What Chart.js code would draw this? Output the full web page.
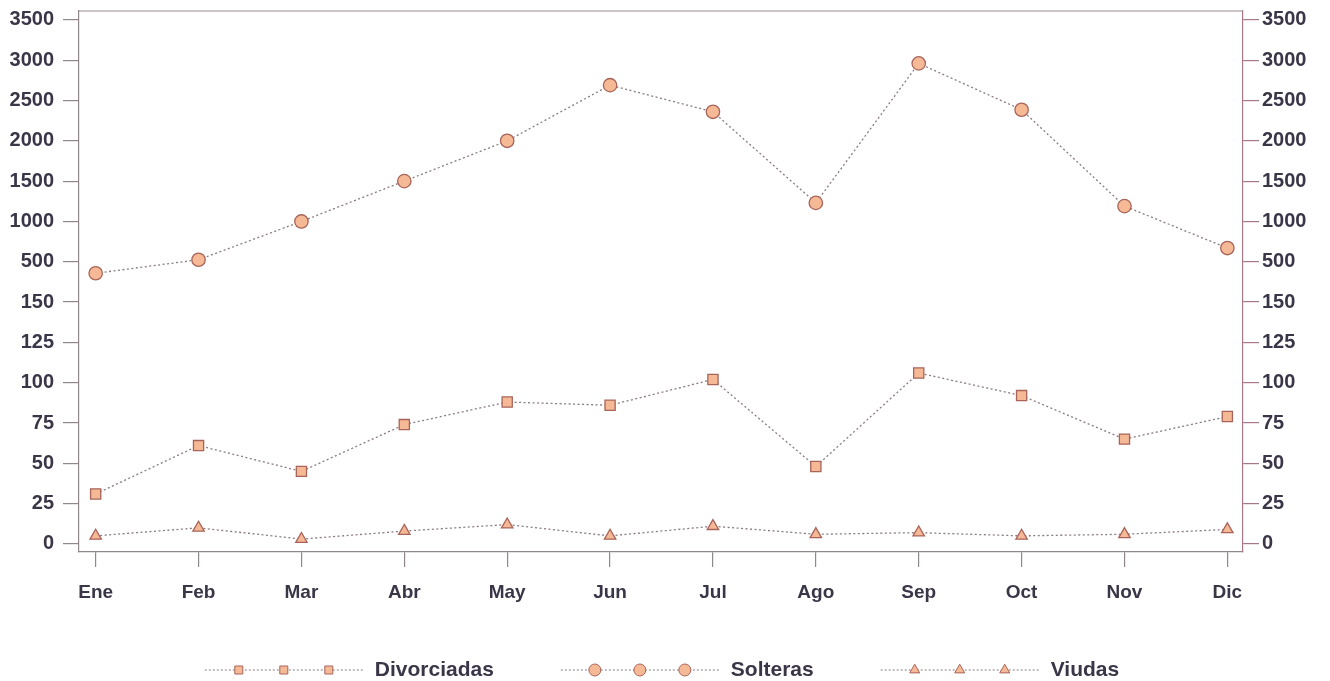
<!DOCTYPE html>
<html><head><meta charset="utf-8">
<script src="https://cdn.jsdelivr.net/npm/chart.js@4.4.1/dist/chart.umd.min.js"></script>
<style>html,body{margin:0;padding:0;background:#fff}#wrap{width:1330px;height:681px;position:relative}</style>
</head><body><div id="wrap"><canvas id="c" width="1330" height="681"></canvas></div>
<script>
const months = ['Ene','Feb','Mar','Abr','May','Jun','Jul','Ago','Sep','Oct','Nov','Dic'];
const divorciadas = [31, 61, 45, 74, 88, 86, 102, 48, 106, 92, 65, 79];
const solteras = [400, 525, 1000, 1500, 2000, 2690, 2360, 1230, 2960, 2385, 1190, 670];
const viudas = [5, 10, 3, 8, 12, 5, 11, 6, 7, 5, 6, 9];
const yTickValues = [0, 25, 50, 75, 100, 125, 150, 500, 1000, 1500, 2000, 2500, 3000, 3500];
const seriesNames = ['Divorciadas', 'Solteras', 'Viudas'];

// broken axis: 0-150 step 25, then 150-500, then 500-3500 step 500 (equal spacing per tick)
function toAxis(v){
  if (v <= 150) return v / 25;
  if (v <= 500) return 6 + (v - 150) / 350;
  return 7 + (v - 500) / 500;
}
const axisTicks = yTickValues.map(toAxis);
function yLabel(val){
  const i = axisTicks.findIndex(t => Math.abs(t - val) < 1e-6);
  return i >= 0 ? String(yTickValues[i]) : '';
}
function pts(arr){ return arr.map((v, i) => ({x: i, y: toAxis(v)})); }

const FILL = '#f6b995', EDGE = '#a8645a', LINE = '#8a7b80', TXT = '#3b3548';
const FONT = '"Liberation Sans", Arial, sans-serif';

function mk(label, arr, style, r){
  return {
    label, data: pts(arr), yAxisID: 'y', xAxisID: 'x',
    borderColor: LINE, borderWidth: 1.3, borderDash: [2, 2.5], tension: 0, fill: false,
    pointStyle: style, pointRadius: r, pointHoverRadius: r,
    pointBackgroundColor: FILL, pointBorderColor: EDGE, pointBorderWidth: 1.3,
    legendStyle: style
  };
}

function drawMarker(ctx, style, x, y, s){
  ctx.beginPath();
  if (style === 'rect') ctx.rect(x - s/2, y - s/2, s, s);
  else if (style === 'circle') ctx.arc(x, y, s/2, 0, Math.PI*2);
  else { const h = s * Math.sqrt(3)/2; ctx.moveTo(x, y - h*2/3); ctx.lineTo(x + s/2, y + h/3); ctx.lineTo(x - s/2, y + h/3); ctx.closePath(); }
  ctx.fill(); ctx.stroke();
}

const legendPlugin = {
  id: 'customLegend',
  afterDraw(chart){
    const ctx = chart.ctx;
    const y = 670;
    const sizes = {rect: 8, circle: 12, triangle: 10};
    ctx.save();
    ctx.font = 'bold 21px ' + FONT;
    const sampleW = 158, gapT = 12, gapI = 67;
    const items = chart.data.datasets.map(ds => ({ds, tw: ctx.measureText(ds.label).width}));
    const total = items.reduce((a, b) => a + sampleW + gapT + b.tw, 0) + gapI * (items.length - 1);
    let x = 662 - total / 2;
    items.forEach(({ds, tw}) => {
      ctx.strokeStyle = LINE; ctx.lineWidth = 1; ctx.setLineDash([2, 2]);
      ctx.beginPath(); ctx.moveTo(x, y); ctx.lineTo(x + sampleW, y); ctx.stroke();
      ctx.setLineDash([]);
      ctx.fillStyle = FILL; ctx.strokeStyle = EDGE; ctx.lineWidth = 1;
      [-45, 0, 45].forEach(dx => drawMarker(ctx, ds.legendStyle, x + sampleW/2 + dx, y, sizes[ds.legendStyle]));
      ctx.fillStyle = TXT; ctx.textAlign = 'left'; ctx.textBaseline = 'middle';
      ctx.fillText(ds.label, x + sampleW + gapT, y);
      x += sampleW + gapT + tw + gapI;
    });
    ctx.restore();
  }
};

const framePlugin = {
  id: 'frameTop',
  afterDatasetsDraw(chart){
    const a = chart.chartArea, ctx = chart.ctx;
    ctx.save(); ctx.strokeStyle = '#9a8a90'; ctx.lineWidth = 1.2;
    ctx.beginPath(); ctx.moveTo(a.left, a.top); ctx.lineTo(a.right, a.top); ctx.stroke();
    ctx.restore();
  }
};

function yScale(pos, color, pad){
  return {
    type: 'linear', position: pos, min: -0.2, max: 13.22, display: true,
    afterBuildTicks: s => { s.ticks = axisTicks.map(v => ({value: v})); },
    afterFit: s => { s.width = pos === 'left' ? 79 : 87; s.paddingTop = 0; s.paddingBottom = 0; },
    grid: { drawOnChartArea: false, drawTicks: true, tickLength: 16, color: color, lineWidth: 1.2 },
    border: { display: true, color: color, width: 1.2 },
    ticks: { callback: v => yLabel(v), padding: pad, color: TXT, font: { family: FONT, size: 20, weight: 'bold' } }
  };
}

new Chart(document.getElementById('c'), {
  type: 'line',
  data: { datasets: [
    mk(seriesNames[0], divorciadas, 'rect', 7.2),
    mk(seriesNames[1], solteras, 'circle', 6.7),
    mk(seriesNames[2], viudas, 'triangle', 6.6)
  ]},
  options: {
    responsive: false, animation: false, devicePixelRatio: 1,
    layout: { padding: { top: 11, left: 0, right: 0, bottom: 0 } },
    plugins: { legend: { display: false }, tooltip: { enabled: false } },
    scales: {
      x: {
        type: 'linear', min: -0.162, max: 11.152,
        afterBuildTicks: s => { s.ticks = months.map((m, i) => ({value: i})); },
        afterFit: s => { s.height = 129; s.paddingLeft = 0; s.paddingRight = 0; },
        grid: { drawOnChartArea: false, drawTicks: true, tickLength: 15, color: '#8f878c', lineWidth: 1.2 },
        border: { display: true, color: '#8f878c', width: 1.2 },
        ticks: { callback: v => months[v] ?? '', padding: 14, maxRotation: 0, color: TXT, font: { family: FONT, size: 19, weight: 'bold' } }
      },
      y: yScale('left', '#8f878c', 9),
      y2: yScale('right', '#a8788a', 3)
    }
  },
  plugins: [legendPlugin, framePlugin]
});
</script></body></html>
